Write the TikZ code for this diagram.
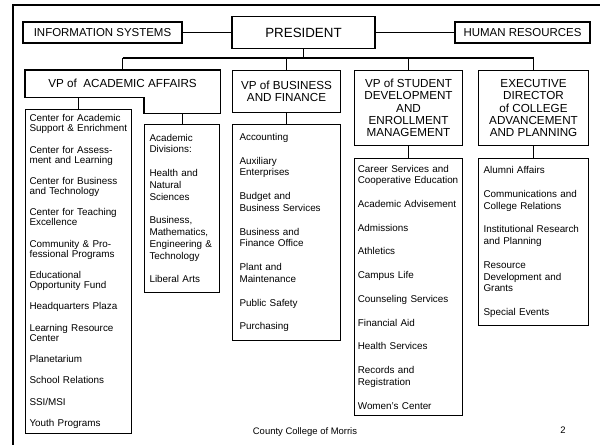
\documentclass[tikz,border=0pt]{standalone}
\usepackage{fontspec}
\setmainfont{Liberation Sans}
\usepackage{tikz}
\usetikzlibrary{positioning, calc}

\begin{document}
\begin{tikzpicture}[
    x=0.75pt, y=-0.75pt,
    dims/.style 2 args={minimum width=#1*0.75pt, minimum height=#2*0.75pt},
    topbox/.style={rectangle, draw=black, line width=0.8pt, inner sep=0pt, align=center, font=\fontsize{8.6}{10}\selectfont},
    vpbox/.style={rectangle, draw=black, line width=0.8pt, inner sep=0pt, align=center, anchor=north west, font=\fontsize{8.75}{9.2}\selectfont},
    unitbox/.style={rectangle, draw=black, line width=0.8pt, inner ysep=0pt, align=left, anchor=north west, font=\fontsize{7.4}{8.8}\selectfont},
    link/.style={line width=0.8pt}
]

\useasboundingbox (0,0) rectangle (600,444);
\draw[line width=2.2pt] (13,450) -- (13,5) -- (606,5);

\node[topbox, dims={159}{21}] (info) at (102.5,32.5) {INFORMATION SYSTEMS};
\node[topbox, dims={143}{32}, font=\fontsize{10}{12}\selectfont] (pres) at (303.5,32.5) {PRESIDENT};
\node[topbox, dims={135}{21}] (hr) at (522.5,32.5) {HUMAN RESOURCES};

\draw[link] (info) -- (pres);
\draw[link] (pres) -- (hr);

% vice presidents
\node[vpbox, draw=none, dims={194}{26}] (vpacad) at (25,70) {VP of\ \ ACADEMIC AFFAIRS};
\node[vpbox, draw=none, dims={75}{42}] (acadext) at (144,70) {};
\draw[link] (vpacad.north west) -- (acadext.north east) -- (acadext.south east) -- (acadext.south west)
    -- (acadext.west |- vpacad.south) -- (vpacad.south west) -- cycle;
\node[vpbox, dims={108}{42}] (vpbus) at (232,70) {VP of BUSINESS\\AND FINANCE};
\node[vpbox, dims={108}{75}] (vpstu) at (354,70) {VP of STUDENT\\DEVELOPMENT\\AND\\ENROLLMENT\\MANAGEMENT};
\node[vpbox, dims={110}{75}] (vpexec) at (478,70) {EXECUTIVE\\DIRECTOR\\of COLLEGE\\ADVANCEMENT\\AND PLANNING};

\coordinate (bus) at (0,58);
\draw[link] (pres.south) -- (pres.south |- bus);
\draw[link] (vpacad.north |- bus) -- (vpexec.north |- bus);
\foreach \vp in {vpacad, vpbus, vpstu, vpexec}
    \draw[link] (\vp.north |- bus) -- (\vp.north);

% units
\node[unitbox, dims={106}{324}, inner xsep=3pt, text width=73.5pt, font=\fontsize{7.4}{7.5}\selectfont] (centers) at (25,109) {Center for Academic\\Support \& Enrichment\\[8.5pt]Center for Assess-\\ment and Learning\\[8.5pt]Center for Business\\and Technology\\[8.5pt]Center for Teaching\\Excellence\\[8.5pt]Community \& Pro-\\fessional Programs\\[8.5pt]Educational\\Opportunity Fund\\[8.5pt]Headquarters Plaza\\[8.5pt]Learning Resource\\Center\\[8.5pt]Planetarium\\[8.5pt]School Relations\\[8.5pt]SSI/MSI\\[8.5pt]Youth Programs};
\node[unitbox, dims={75}{168}, inner xsep=3.75pt, text width=48.75pt] (divs) at (144,124) {Academic\\Divisions:\\[9pt]Health and\\Natural\\Sciences\\[9pt]Business,\\Mathematics,\\Engineering \&\\Technology\\[9pt]Liberal Arts};
\node[unitbox, dims={108}{216}, inner xsep=5.25pt, text width=70.5pt] (buslist) at (232,124) {Accounting\\[9pt]Auxiliary\\Enterprises\\[9pt]Budget and\\Business Services\\[9pt]Business and\\Finance Office\\[9pt]Plant and\\Maintenance\\[9pt]Public Safety\\[9pt]Purchasing};
\node[unitbox, dims={108}{257}, inner xsep=2.5pt, text width=76pt] (stulist) at (354,158) {Career Services and\\Cooperative Education\\[9pt]Academic Advisement\\[9pt]Admissions\\[9pt]Athletics\\[9pt]Campus Life\\[9pt]Counseling Services\\[9pt]Financial Aid\\[9pt]Health Services\\[9pt]Records and\\Registration\\[9pt]Women's Center};
\node[unitbox, dims={110}{167}, inner xsep=3.75pt, text width=75pt] (execlist) at (478,158) {Alumni Affairs\\[9pt]Communications and\\College Relations\\[9pt]Institutional Research\\and Planning\\[9pt]Resource\\Development and\\Grants\\[9pt]Special Events};

\draw[link] (centers.north |- vpacad.south) -- (centers.north);
\draw[link] (acadext.south) -- (divs.north);
\draw[link] (vpbus.south) -- (buslist.north);
\draw[link] (vpstu.south) -- (stulist.north);
\draw[link] (vpexec.south) -- (execlist.north);

% footer
\node[font=\fontsize{7.1}{8}\selectfont] (footer) at (305,432) {County College of Morris};
\node[font=\fontsize{7.1}{8}\selectfont] (page) at (563,430) {2};

\end{tikzpicture}
\end{document}
